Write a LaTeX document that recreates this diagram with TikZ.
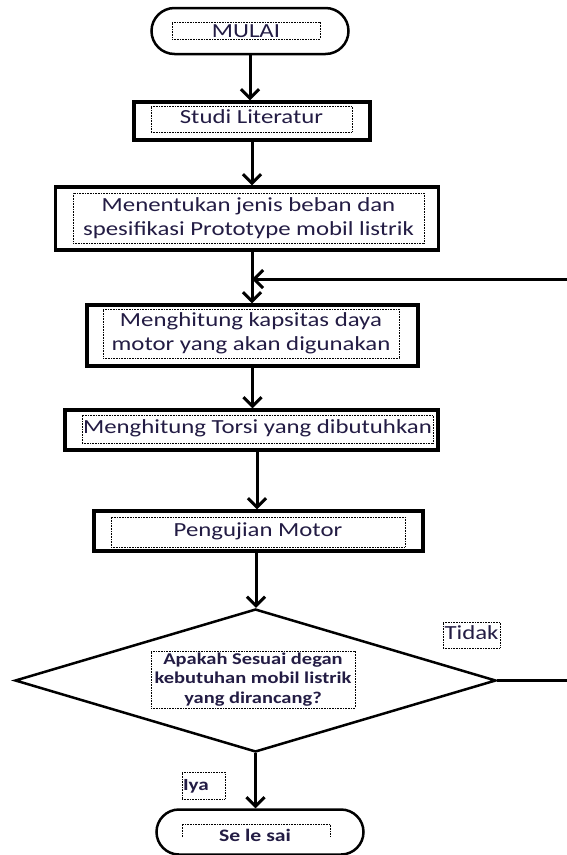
\documentclass[tikz,border=0pt]{standalone}
\usepackage{fontspec}
\setmainfont[FakeStretch=1.24]{Carlito}
\usetikzlibrary{shapes.geometric,shapes.misc,arrows.meta}
\definecolor{txt}{HTML}{231C44}
\begin{document}
\begin{tikzpicture}[x=1pt,y=-1pt,
  outerbox/.style={draw, line width=3.5pt, rectangle, inner sep=0pt},
  termbox/.style={draw, line width=2.5pt, rounded rectangle, inner sep=0pt},
  dotbox/.style={draw, dash pattern=on 0.8pt off 0.8pt, line width=0.9pt, inner sep=0pt,
    text=txt, align=center, font=\fontsize{20}{24}\selectfont},
  oneline/.style={text height=14pt, text depth=5pt},
  dotboxb/.style={dotbox, font=\fontsize{16.5}{19.5}\selectfont\bfseries},
  dotline/.style={dash pattern=on 0.8pt off 0.8pt, line width=0.9pt},
  arr/.style={line width=3pt, -{Straight Barb[length=9pt,width=18pt]}},
  flow/.style={line width=3pt, line join=miter}
]
\useasboundingbox (0,0) rectangle (567,855);
\fill[white] (0,0) rectangle (567,855);

% MULAI
\node[termbox, minimum width=197pt, minimum height=46pt] (mulai) at (250,31) {};
\node[dotbox, text height=13pt, text depth=0pt, minimum width=148pt, minimum height=17pt] (tmulai) at (246,30.5) {MULAI};

% Studi Literatur
\node[outerbox, minimum width=236pt, minimum height=38pt] (studi) at (252,121) {};
\node[dotbox, oneline, minimum width=201pt, minimum height=26pt] (tstudi) at (251.5,119) {Studi Literatur};

% Menentukan
\node[outerbox, minimum width=383pt, minimum height=63pt] (menen) at (247,218.5) {};
\node[dotbox, minimum width=351pt, minimum height=50pt] (tmenen) at (248.5,218) {Menentukan jenis beban dan\\spesifikasi Prototype mobil listrik};

% Kapsitas
\node[outerbox, minimum width=331pt, minimum height=61pt] (kaps) at (252.5,335.5) {};
\node[dotbox, minimum width=296pt, minimum height=49pt] (tkaps) at (251,333.5) {Menghitung kapsitas daya\\motor yang akan digunakan};

% Torsi
\node[outerbox, minimum width=373pt, minimum height=40pt] (torsi) at (251.5,430) {};
\node[dotbox, oneline, minimum width=351pt, minimum height=28pt] (ttorsi) at (257.5,429) {Menghitung Torsi yang dibutuhkan};

% Pengujian
\node[outerbox, minimum width=329pt, minimum height=40pt] (uji) at (258.5,531) {};
\node[dotbox, oneline, minimum width=294pt, minimum height=30pt] (tuji) at (258,532) {Pengujian Motor};

% Decision
\node[draw, diamond, line width=2.5pt, inner sep=0pt, minimum width=481pt, minimum height=143pt] (dec) at (255.5,680.5) {};
\node[dotboxb, minimum width=204pt, minimum height=57pt] (tdec) at (253,679.5) {Apakah Sesuai degan\\kebutuhan mobil listrik\\yang dirancang?};

% Labels
\node[dotbox, oneline, minimum width=57pt, minimum height=26pt] (tidak) at (471.5,635) {Tidak};
\node[dotbox, font=\fontsize{17}{20}\selectfont\bfseries, text height=13pt, text depth=4pt, minimum width=43pt, minimum height=27pt, text width=41pt, align=left] (iya) at (203.5,785.5) {Iya};

% Selesai
\node[termbox, minimum width=207pt, minimum height=45pt] (selesai) at (260,832) {};
\coordinate (sl) at (182,837);
\coordinate (sr) at (330,837);
\coordinate (st) at (330,824);
\draw[dotline] (sl) |- (st) -- (sr);
\node[text=txt, font=\fontsize{17.5}{20}\selectfont\bfseries] (tsel) at (255,835) {Se le sai};

% Arrows
\draw[arr] (mulai.south) -- (mulai.south |- studi.north);
\draw[arr] (studi.south) -- (studi.south |- menen.north);
\coordinate (join) at (252,279);
\coordinate (mjoin) at (252,252);
\draw[arr] (mjoin) -- (mjoin |- kaps.north);
\draw[arr] (kaps.south) -- (kaps.south |- torsi.north);
\coordinate (tjoin) at (257,452);
\draw[arr] (tjoin) -- (tjoin |- uji.north);
\coordinate (ujoin) at (256,553);
\draw[arr] (ujoin) -- (ujoin |- dec.north);
\draw[arr] (dec.south) -- (dec.south |- selesai.north);

% Feedback loop
\coordinate (rb) at (568.5,680.5);
\coordinate (rt) at (568.5,279);
\draw[flow] (dec.east) -- (rb) -- (rt);
\draw[arr] (rt) -- (join);
\end{tikzpicture}
\end{document}
